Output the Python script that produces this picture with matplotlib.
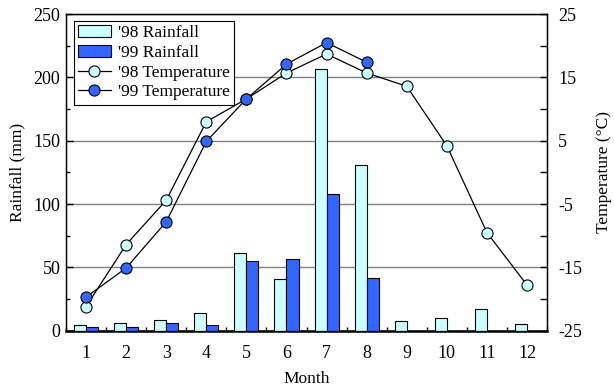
import numpy as np
import matplotlib.pyplot as plt
from matplotlib.ticker import MultipleLocator, FixedLocator

plt.rcParams['font.family'] = ['Liberation Serif', 'DejaVu Serif']
plt.rcParams['axes.unicode_minus'] = False

months = list(range(1, 13))
month_labels = [str(m) for m in months]

# monthly rainfall (mm)
rain_98 = [4.5, 5.8, 8.4, 13.7, 61, 41, 207, 131, 7.6, 9.8, 17, 5]
rain_99 = [3, 3, 5.8, 4.2, 54.8, 56.4, 107.7, 42]

# monthly mean temperature (C)
temp_98 = [-21.2, -11.4, -4.4, 8.0, 11.6, 15.7, 18.7, 15.7, 13.6, 4.2, -9.5, -17.8]
temp_99 = [-19.7, -15.1, -7.8, 4.9, 11.6, 17.1, 20.5, 17.4]

c_light = '#ccffff'
c_dark = '#3366ff'

fig = plt.figure(figsize=(6.14, 3.87), dpi=100)
ax = fig.add_axes([0.1075, 0.1455, 0.7835, 0.818])

x = np.arange(len(months))
x99 = np.arange(len(rain_99))
w = 0.3

ax.bar(x - w / 2, rain_98, width=w, color=c_light, edgecolor='black', linewidth=0.8,
       label="'98 Rainfall", zorder=3)
ax.bar(x99 + w / 2, rain_99, width=w, color=c_dark, edgecolor='black', linewidth=0.8,
       label="'99 Rainfall", zorder=3)

ax.set_xlim(-0.5, len(months) - 0.5)
ax.set_ylim(0, 250)
ax.yaxis.set_major_locator(MultipleLocator(50))
ax.yaxis.set_minor_locator(MultipleLocator(25))
ax.grid(axis='y', which='major', color='#808080', linewidth=1.0, zorder=0)
ax.set_axisbelow(True)

ax.set_xticks(x)
ax.set_xticklabels(month_labels)
ax.xaxis.set_minor_locator(FixedLocator(np.arange(-0.5, len(months), 1.0)))
ax.tick_params(axis='x', which='major', length=0, labelsize=13, pad=10)
ax.tick_params(axis='x', which='minor', direction='in', length=3, width=1)
ax.tick_params(axis='y', which='major', direction='in', length=5, width=1, labelsize=13, pad=4)
ax.tick_params(axis='y', which='minor', direction='in', length=3, width=1)
ax.spines['bottom'].set_linewidth(1.8)
for s in ['top', 'left', 'right']:
    ax.spines[s].set_linewidth(1.0)

ax.set_xlabel('Month', fontsize=12.5, labelpad=7)
ax.set_ylabel('Rainfall (mm)', fontsize=12.5, labelpad=6)

ax2 = ax.twinx()
ax2.set_ylim(-25, 25)
ax2.set_yticks([-25, -15, -5, 5, 15, 25])
ax2.yaxis.set_minor_locator(FixedLocator([-20, -10, 0, 10, 20]))
ax2.tick_params(axis='y', which='major', direction='in', length=5, width=1, labelsize=13, pad=8)
ax2.tick_params(axis='y', which='minor', direction='in', length=5, width=1)
ax2.set_ylabel('Temperature (\u00b0C)', fontsize=12.5, labelpad=10)

ax2.plot(x, temp_98, color='black', linewidth=0.9, marker='o', markersize=8,
         markerfacecolor=c_light, markeredgecolor='black', markeredgewidth=0.8,
         label="'98 Temperature", zorder=5)
ax2.plot(x99, temp_99, color='black', linewidth=0.9, marker='o', markersize=8,
         markerfacecolor=c_dark, markeredgecolor='black', markeredgewidth=0.8,
         label="'99 Temperature", zorder=5)

h1, l1 = ax.get_legend_handles_labels()
h2, l2 = ax2.get_legend_handles_labels()
leg = ax2.legend(h1 + h2, l1 + l2, loc='upper left', fontsize=12.5, frameon=True,
                 fancybox=False, framealpha=1, edgecolor='black', borderpad=0.25,
                 labelspacing=0.2, handlelength=1.9, handletextpad=0.4,
                 borderaxespad=0.3, bbox_to_anchor=(0.005, 0.995))
leg.get_frame().set_linewidth(0.8)

fig.savefig('out.png', dpi=100)
